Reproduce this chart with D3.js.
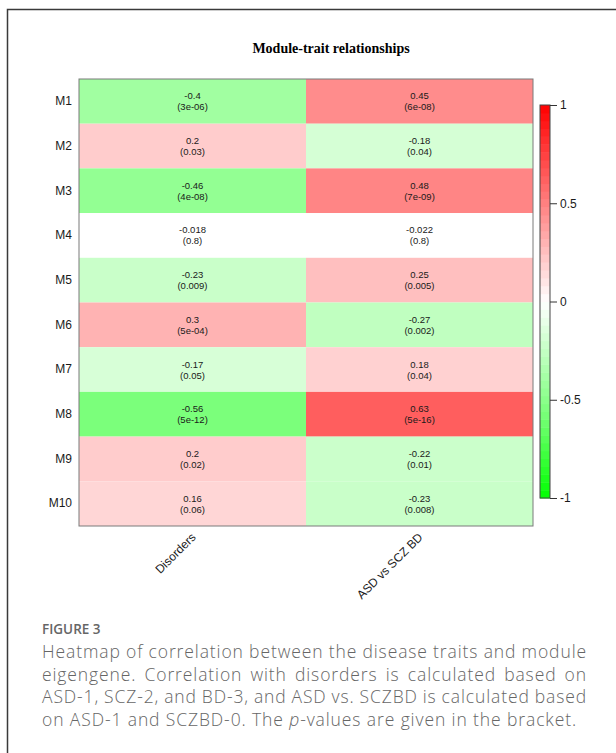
<!DOCTYPE html>
<html>
<head>
<meta charset="utf-8">
<script src="https://cdn.jsdelivr.net/npm/d3@7"></script>
<style>
  body { margin: 0; background: #fff; }
  svg { display: block; }
</style>
</head>
<body>
<div id="chart"></div>
<script>
// modules (rows) and traits (columns)
var modules = ["M1", "M2", "M3", "M4", "M5", "M6", "M7", "M8", "M9", "M10"];
var traits = ["Disorders", "ASD vs SCZ BD"];

// correlation + p-value per trait
var corDisorders = [-0.4, 0.2, -0.46, -0.018, -0.23, 0.3, -0.17, -0.56, 0.2, 0.16];
var pDisorders = ["3e-06", "0.03", "4e-08", "0.8", "0.009", "5e-04", "0.05", "5e-12", "0.02", "0.06"];
var corAsd = [0.45, -0.18, 0.48, -0.022, 0.25, -0.27, 0.18, 0.63, -0.22, -0.23];
var pAsd = ["6e-08", "0.04", "7e-09", "0.8", "0.005", "0.002", "0.04", "5e-16", "0.01", "0.008"];

var legendTicks = [-1, -0.5, 0, 0.5, 1];

var captionTitle = "FIGURE 3";
var captionLines = [
  "Heatmap of correlation between the disease traits and module",
  "eigengene. Correlation with disorders is calculated based on",
  "ASD-1, SCZ-2, and BD-3, and ASD vs. SCZBD is calculated based"
];

function main() {
  var W = 616, H = 753;
  var hm = {left: 79, top: 79, right: 533, bottom: 526};

  var svg = d3.select("#chart").append("svg")
    .attr("width", W).attr("height", H);

  // outer figure frame (runs off right & bottom)
  svg.append("path")
    .attr("d", "M7.5," + H + "V9.5H" + (W + 5))
    .attr("fill", "none").attr("stroke", "#3a3a3a").attr("stroke-width", 1.5);

  // build cell table
  var cells = [];
  modules.forEach(function(m, i) {
    cells.push({mod: m, trait: traits[0], r: corDisorders[i], p: pDisorders[i]});
    cells.push({mod: m, trait: traits[1], r: corAsd[i], p: pAsd[i]});
  });

  var x = d3.scaleBand().domain(traits).range([hm.left, hm.right]);
  var y = d3.scaleBand().domain(modules).range([hm.top, hm.bottom]);
  // green side of the palette is a bit paler than the red side
  var ramp = d3.scaleLinear()
    .domain([-1, -0.6, 0, 1])
    .range(["#00ff00", "#72ff72", "#ffffff", "#ff0000"]);
  var color = function(v) { return Math.abs(v) < 0.04 ? "#ffffff" : ramp(v); };

  // title
  svg.append("text")
    .attr("x", 331).attr("y", 53)
    .attr("text-anchor", "middle")
    .style("font-family", "'Liberation Serif', 'Times New Roman', serif")
    .style("font-weight", "bold").style("font-size", "14px")
    .text("Module-trait relationships");

  var g = svg.append("g");
  g.selectAll("rect.cell")
    .data(cells)
    .enter().append("rect")
      .attr("class", "cell")
      .attr("x", function(d) { return x(d.trait); })
      .attr("y", function(d) { return y(d.mod); })
      .attr("width", x.bandwidth())
      .attr("height", y.bandwidth())
      .attr("fill", function(d) { return color(d.r); });

  var lab = g.selectAll("text.val")
    .data(cells)
    .enter().append("text")
      .attr("class", "val")
      .attr("text-anchor", "middle")
      .style("font-family", "'Liberation Sans', Arial, sans-serif")
      .style("font-size", "9.5px")
      .attr("fill", "#1a1a1a");
  lab.append("tspan")
    .attr("x", function(d) { return x(d.trait) + x.bandwidth() / 2; })
    .attr("y", function(d) { return y(d.mod) + y.bandwidth() / 2 - 2; })
    .text(function(d) { return d.r; });
  lab.append("tspan")
    .attr("x", function(d) { return x(d.trait) + x.bandwidth() / 2; })
    .attr("y", function(d) { return y(d.mod) + y.bandwidth() / 2 + 9; })
    .text(function(d) { return "(" + d.p + ")"; });

  // heatmap border
  svg.append("rect")
    .attr("x", hm.left).attr("y", hm.top)
    .attr("width", hm.right - hm.left).attr("height", hm.bottom - hm.top)
    .attr("fill", "none").attr("stroke", "#7a7a7a").attr("stroke-width", 1);

  // row labels
  var yAxis = svg.append("g")
    .attr("transform", "translate(" + hm.left + ",0)")
    .call(d3.axisLeft(y).tickSize(0).tickPadding(7));
  yAxis.select(".domain").remove();
  yAxis.selectAll("text")
    .style("font-family", "'Liberation Sans', Arial, sans-serif")
    .style("font-size", "12px").attr("fill", "#1a1a1a");

  // column labels, rotated
  svg.selectAll("text.xlab")
    .data(traits)
    .enter().append("text")
      .attr("class", "xlab")
      .attr("text-anchor", "end")
      .attr("transform", function(d) {
        return "translate(" + (x(d) + x.bandwidth() / 2 + 4) + "," + (hm.bottom + 12) + ") rotate(-45)";
      })
      .style("font-family", "'Liberation Sans', Arial, sans-serif")
      .style("font-size", "12px").attr("fill", "#1a1a1a")
      .text(function(d) { return d; });

  // colour legend
  var ly = d3.scaleLinear().domain([-1, 1]).range([498, 105]);
  var steps = d3.range(50).map(function(i) { return -1 + (i + 0.5) * 0.04; });
  svg.append("g").selectAll("rect")
    .data(steps)
    .enter().append("rect")
      .attr("x", 540).attr("width", 10)
      .attr("y", function(d) { return ly(d + 0.02); })
      .attr("height", Math.abs(ly(0) - ly(0.04)) + 0.5)
      .attr("fill", function(d) { return ramp(d); });
  svg.append("rect")
    .attr("x", 540).attr("y", 105).attr("width", 10).attr("height", 393)
    .attr("fill", "none").attr("stroke", "#444").attr("stroke-width", 1);
  var la = svg.append("g")
    .attr("transform", "translate(550,0)")
    .call(d3.axisRight(ly).tickValues(legendTicks).tickSize(7).tickPadding(3)
      .tickFormat(function(d) { return d; }));
  la.select(".domain").remove();
  la.selectAll("line").attr("stroke", "#333");
  la.selectAll("text")
    .style("font-family", "'Liberation Sans', Arial, sans-serif")
    .style("font-size", "12px").attr("fill", "#1a1a1a");

  // caption
  var capFont = "'Open Sans', 'Noto Sans', sans-serif";
  var capLeft = 42, capWidth = 545, capSize = "17.5px";
  svg.append("text")
    .attr("x", capLeft).attr("y", 634)
    .style("font-family", capFont).style("font-weight", 600)
    .style("font-size", "13.5px").attr("fill", "#666")
    .text(captionTitle);

  // last (ragged) line sets the letter spacing: it ends near x = 577
  var last = svg.append("text")
    .attr("x", capLeft).attr("y", 658 + 3 * 22.5)
    .style("font-family", capFont).style("font-size", capSize)
    .style("font-weight", 300)
    .attr("fill", "#666");
  last.append("tspan").text("on ASD-1 and SCZBD-0. The ");
  last.append("tspan").style("font-style", "italic").text("p");
  last.append("tspan").text("-values are given in the bracket.");
  var lastLen = "on ASD-1 and SCZBD-0. The p-values are given in the bracket.".length;
  var ls = (535 - last.node().getComputedTextLength()) / lastLen;
  last.style("letter-spacing", ls + "px");

  captionLines.forEach(function(line, i) {
    var t = svg.append("text")
      .attr("x", capLeft).attr("y", 658 + i * 22.5)
      .style("font-family", capFont).style("font-size", capSize)
      .style("font-weight", 300)
      .style("letter-spacing", ls + "px")
      .attr("fill", "#666")
      .text(line);
    // justify by widening the gaps between words
    var gaps = line.split(" ").length - 1;
    var extra = (capWidth - t.node().getComputedTextLength()) / gaps;
    t.style("word-spacing", extra + "px");
  });
}

document.addEventListener("DOMContentLoaded", main);
</script>
</body>
</html>
